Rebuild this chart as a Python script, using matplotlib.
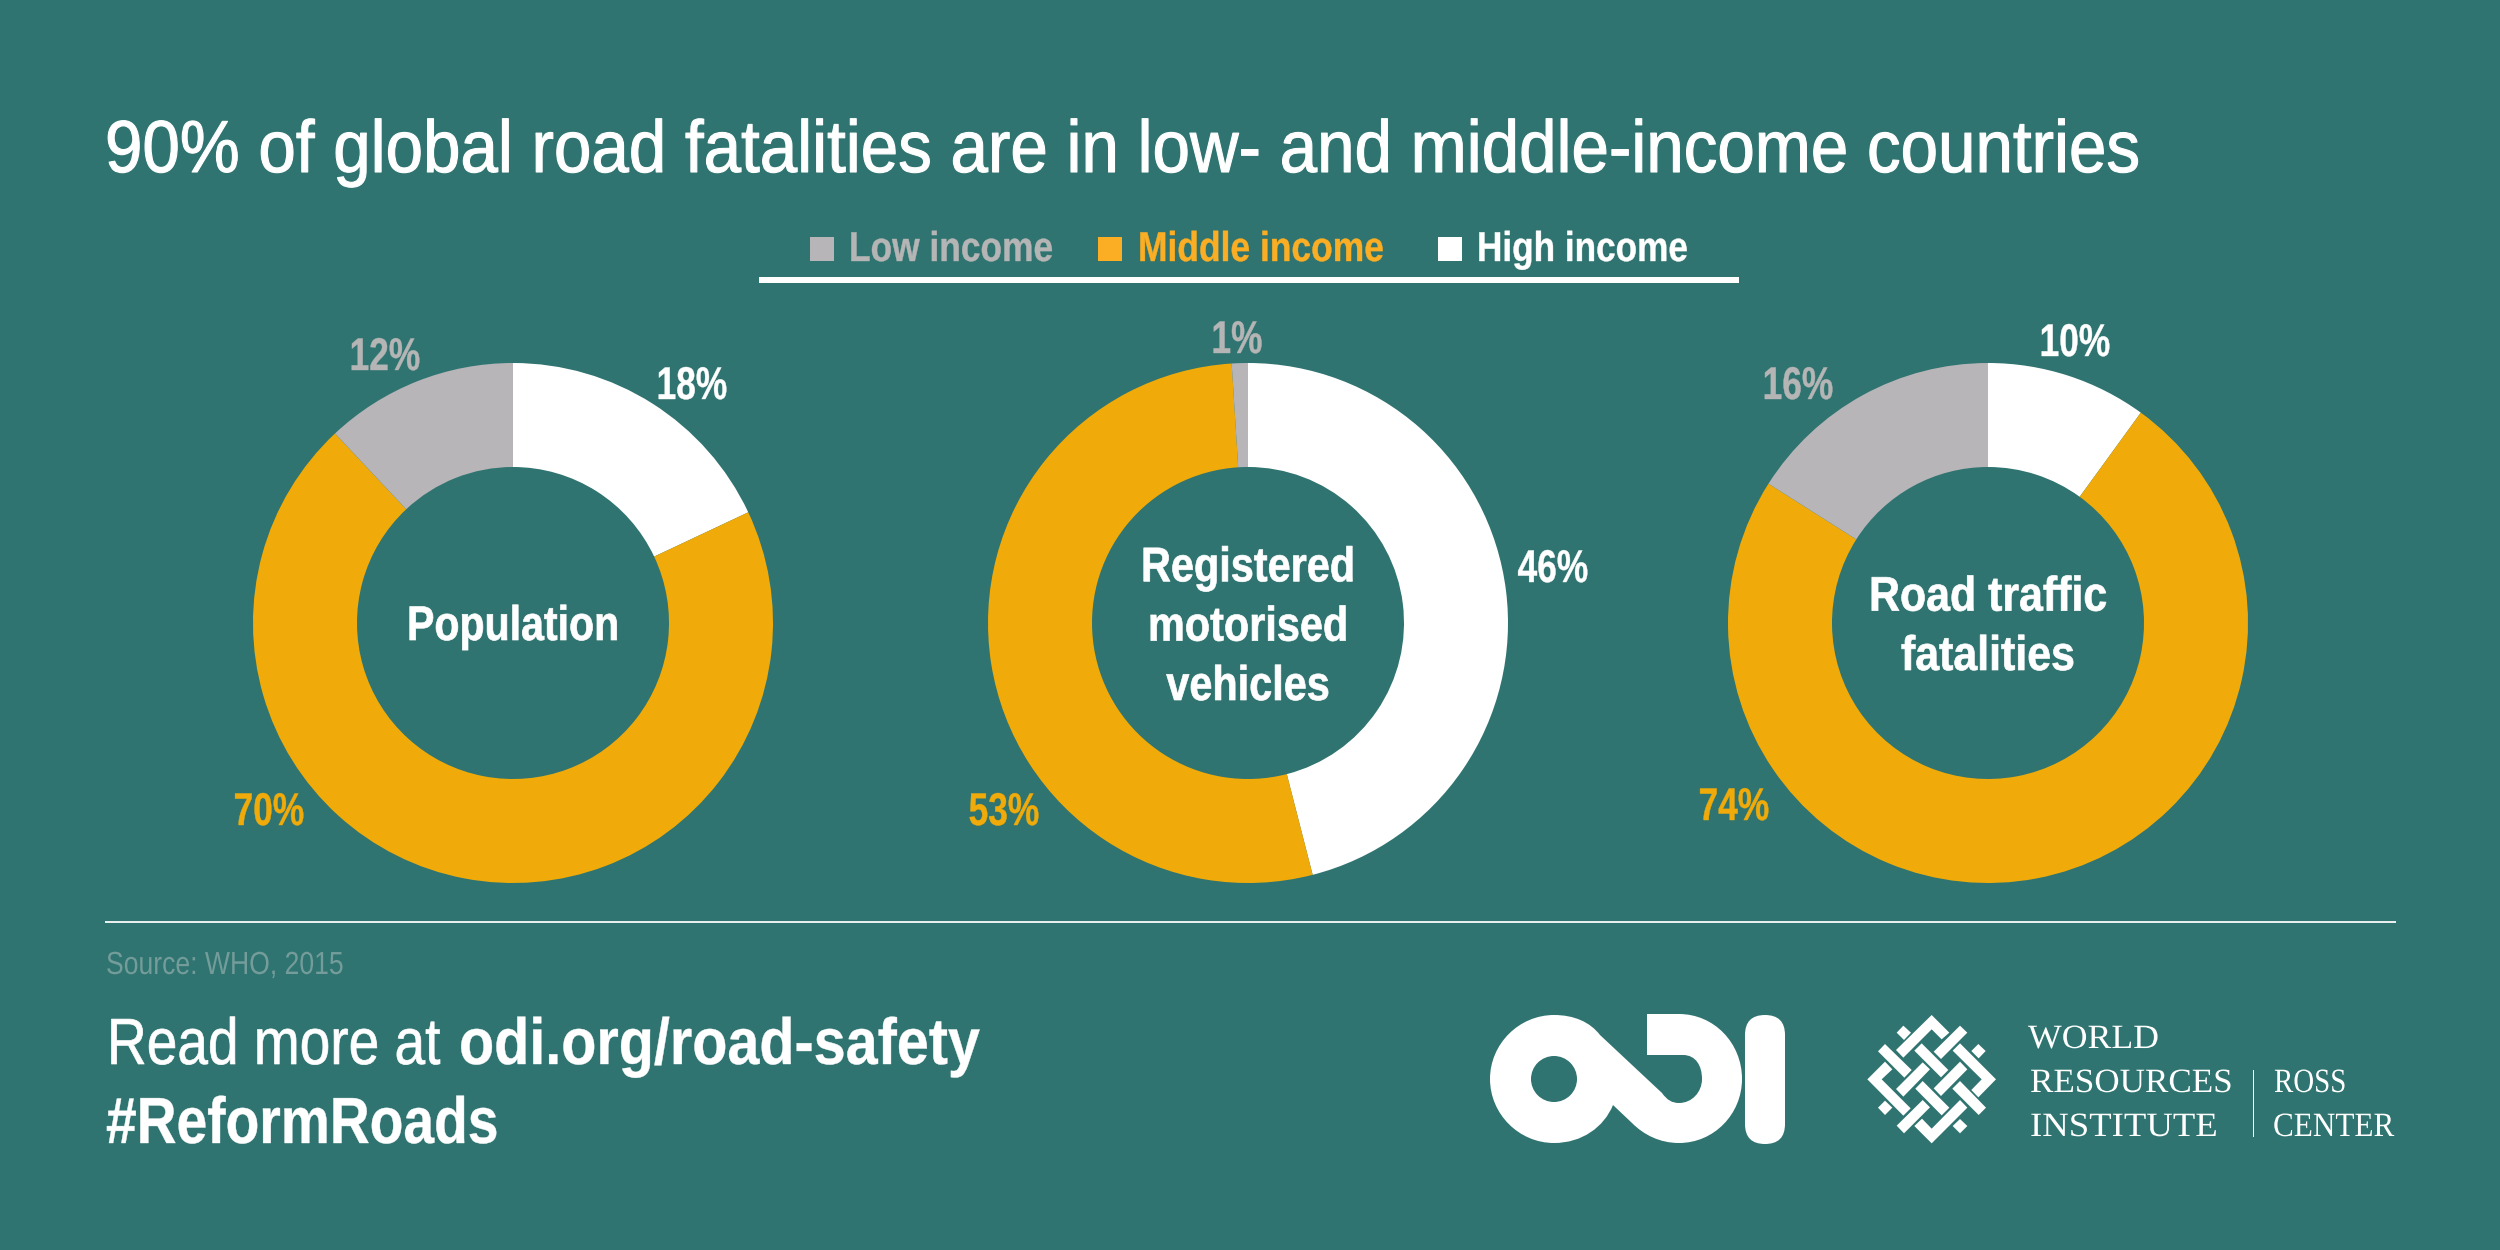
import matplotlib
matplotlib.use("Agg")
import matplotlib.pyplot as plt
from matplotlib.patches import Rectangle, Polygon, PathPatch, Ellipse, FancyBboxPatch
from matplotlib.path import Path
from matplotlib.patheffects import AbstractPathEffect
from matplotlib.transforms import Affine2D, Bbox

BG = "#2F7470"
ORANGE = "#F0AB0A"
GREY = "#B7B5B8"
WHITE = "#FFFFFF"
LEGEND_ORANGE = "#FBAE24"
SOURCE = "#739C9A"

title = "90% of global road fatalities are in low- and middle-income countries"
income_groups = ["High income", "Middle income", "Low income"]
population = [18, 70, 12]
vehicles = [46, 53, 1]
fatalities = [10, 74, 16]
centre_labels = ["Population", "Registered\nmotorised\nvehicles", "Road traffic\nfatalities"]

SANS = "Liberation Sans"
W, H = 2500, 1250
fig = plt.figure(figsize=(25, 12.5), dpi=100, facecolor=BG)
ov = fig.add_axes([0, 0, 1, 1], zorder=5)
ov.set_xlim(0, W); ov.set_ylim(H, 0); ov.axis("off")
rend = fig.canvas.get_renderer()


class Squeeze(AbstractPathEffect):
    """Condense real text horizontally about its anchor (no narrow face is installed)."""
    def __init__(self, x0, s, stroke=0):
        super().__init__()
        self.t = Affine2D().translate(-x0, 0).scale(s, 1).translate(x0, 0)
        self.stroke = stroke

    def draw_path(self, renderer, gc, tpath, affine, rgbFace=None):
        gc0 = renderer.new_gc()
        gc0.copy_properties(gc)
        gc0.set_linewidth(self.stroke)
        if self.stroke:
            gc0.set_foreground(rgbFace)
        renderer.draw_path(gc0, tpath, affine + self.t, rgbFace)
        gc0.restore()


def put(x, y, s, size, width=None, squeeze=None, stroke=0, color=WHITE, weight="normal", ha="left",
        va="baseline", family=SANS, **kw):
    t = ov.text(x, y, s, fontsize=size, color=color, fontweight=weight, ha=ha, va=va, family=family, **kw)
    full = t.get_window_extent
    if width is not None:
        squeeze = width / full(rend).width
    if squeeze is not None:
        t.set_path_effects([Squeeze(x, squeeze, stroke)])

        def extent(renderer=None, dpi=None, _f=full, _s=squeeze, _x=x):
            b = _f(renderer, dpi)
            return Bbox([[_x + (b.x0 - _x) * _s, b.y0], [_x + (b.x1 - _x) * _s, b.y1]])
        t.get_window_extent = extent
    return t


# Title
put(105, 172, title, 53, width=2037, stroke=0.8)

# Legend
sq = 24
for x, tx, tw, name, c, tc in [(810, 849, 204, "Low income", GREY, "#B5B5B5"),
                               (1098, 1138, 246, "Middle income", LEGEND_ORANGE, LEGEND_ORANGE),
                               (1438, 1477, 211, "High income", WHITE, WHITE)]:
    ov.add_patch(Rectangle((x, 237), sq, sq, color=c, lw=0))
    put(tx, 261, name, 30, width=tw, color=tc, weight="bold", stroke=0.3)
ov.add_patch(Rectangle((759, 277), 980, 6, color=WHITE, lw=0))

# Donuts
R, r, CY = 260, 156, 623
span = R * 1.25
series = [(513, population, centre_labels[0]),
          (1248, vehicles, centre_labels[1]),
          (1988, fatalities, centre_labels[2])]
centre_fit = [(212, 640), (214, 700), (238, 670)]
for (cx, vals, lab), (cw, base) in zip(series, centre_fit):
    ax = fig.add_axes([(cx - span) / W, 1 - (CY + span) / H, 2 * span / W, 2 * span / H])
    ax.pie(vals, colors=[WHITE, ORANGE, GREY], startangle=90, counterclock=False, radius=1,
           wedgeprops=dict(width=(R - r) / R, linewidth=0))
    put(cx, base, lab, 35, width=cw, weight="bold", ha="center", va="baseline",
        linespacing=1.41, multialignment="center", stroke=0.5)

# Value labels: text centre x, baseline y
label_pos = [
    [(692, 399), (269, 825), (385, 370)],
    [(1553, 582), (1004, 825), (1237, 353)],
    [(2075, 356), (1734, 820), (1798, 399)],
]
for (cx, vals, _), pos in zip(series, label_pos):
    for v, (x, y), c in zip(vals, pos, [WHITE, ORANGE, "#B5B5B5"]):
        put(x, y, f"{v}%", 33, squeeze=0.77, color=c, weight="bold", ha="center", stroke=0.3)

# Footer
ov.add_patch(Rectangle((105, 921), 2291, 2, color="#E8EFEE", lw=0))
put(106, 974, "Source: WHO, 2015", 23, width=238, color=SOURCE)
put(440, 1064, "Read more at", 47, width=333, ha="right", stroke=0.5)
put(459, 1064, "odi.org/road-safety", 47, width=520, weight="bold", stroke=0.3)
put(106, 1143, "#ReformRoads", 47, width=392, weight="bold", stroke=0.3)

# ODI logo
M, L, C = Path.MOVETO, Path.LINETO, Path.CURVE4
verts = [(1554, 1015),
         (1574, 1015), (1590, 1022), (1600, 1035),
         (1662, 1093),
         (1667, 1100), (1672, 1103), (1679, 1103),
         (1692, 1103), (1702, 1092), (1702, 1079),
         (1702, 1066), (1696, 1055), (1683, 1055),
         (1647, 1055), (1647, 1014), (1679, 1014),
         (1714, 1014), (1742, 1043), (1742, 1079),
         (1742, 1114), (1714, 1143), (1679, 1143),
         (1660, 1143), (1644, 1135), (1632, 1123),
         (1613, 1105),
         (1604, 1127), (1582, 1143), (1554, 1143),
         (1519, 1143), (1490, 1114), (1490, 1079),
         (1490, 1044), (1519, 1015), (1554, 1015)]
codes = [M, C, C, C, L, C, C, C, C, C, C, C, C, C, L, L, L, C, C, C, C, C, C, C, C, C, L,
         C, C, C, C, C, C, C, C, C]
ov.add_patch(PathPatch(Path(verts, codes), fc=WHITE, ec="none"))
ov.add_patch(Ellipse((1554, 1079), 46, 46, fc=BG, ec="none"))
ov.add_patch(FancyBboxPatch((1765 - 0.01, 1035), 0.02, 89,
                            boxstyle="round,pad=20,rounding_size=20", fc=WHITE, ec="none"))

# WRI knot logo (drawn in a local 420-unit box)
knot = [
    [(215,15),(268,68),(245,88),(215,58),(130,143),(108,120)],
    [(130,47),(153,68),(132,90),(110,68)],
    [(300,47),(322,68),(243,147),(221,125)],
    [(355,102),(377,123),(356,145),(334,123)],
    [(75,102),(155,180),(133,203),(54,124)],
    [(185,100),(265,180),(243,202),(163,122)],
    [(300,100),(408,208),(355,262),(334,240),(365,208),(278,122)],
    [(75,155),(97,178),(65,208),(152,295),(130,317),(22,208)],
    [(188,157),(210,178),(130,260),(108,237)],
    [(300,155),(322,178),(243,258),(221,235)],
    [(75,272),(97,293),(75,315),(54,293)],
    [(188,213),(268,293),(245,316),(166,236)],
    [(300,213),(378,293),(356,315),(277,236)],
    [(188,270),(210,292),(132,370),(110,347)],
    [(300,270),(322,293),(215,400),(163,348),(186,326),(215,356)],
    [(300,327),(322,348),(300,370),(278,348)],
]
for poly in knot:
    ov.add_patch(Polygon([(1860 + a / 3, 1010 + b / 3) for a, b in poly], closed=True, fc=WHITE, ec="none"))

# WRI wordmark
SERIF = "Liberation Serif"
for x, y, s, tw in [(2028, 1048, "WORLD", 131), (2030, 1092, "RESOURCES", 202), (2030, 1136, "INSTITUTE", 188),
                    (2274, 1092, "ROSS", 72), (2273, 1136, "CENTER", 121)]:
    put(x, y, s, 24.5, width=tw, family=SERIF)
ov.add_patch(Rectangle((2252.5, 1070), 1.5, 67, color=WHITE, lw=0))

fig.savefig("out.png", dpi=100, facecolor=BG)
